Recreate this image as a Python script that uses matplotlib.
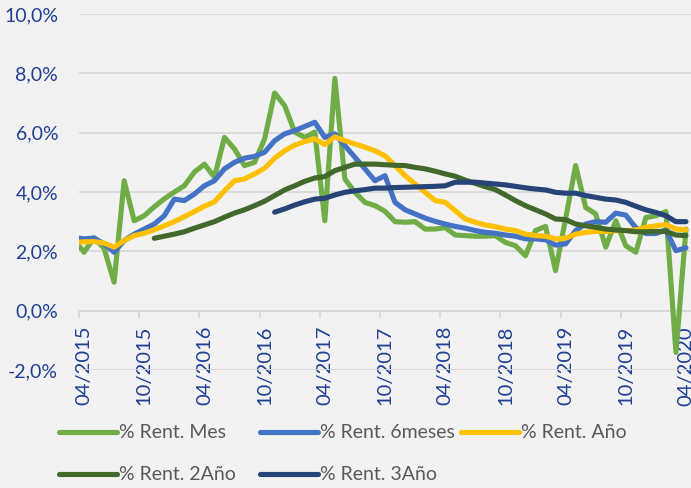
import numpy as np
import matplotlib
matplotlib.use("Agg")
import matplotlib.pyplot as plt
from matplotlib.ticker import FuncFormatter, FixedLocator
from matplotlib.lines import Line2D

nan = np.nan

# monthly points 03/2015 .. 04/2020 (values in %)
months = ["03/2015"] + [f"{m:02d}/{y}" for y in range(2015, 2021) for m in range(1, 13)
                        if (y, m) >= (2015, 4) and (y, m) <= (2020, 4)]

rent_mes = [2.40, 1.97, 2.45, 2.10, 0.96, 4.38, 3.03, 3.20, 3.50, 3.77,
            4.00, 4.21, 4.67, 4.94, 4.50, 5.84, 5.45, 4.89, 5.00, 5.79,
            7.34, 6.91, 6.02, 5.84, 6.02, 3.03, 7.83, 4.44, 3.99, 3.65,
            3.54, 3.35, 3.00, 2.98, 3.00, 2.75, 2.75, 2.80, 2.55, 2.53,
            2.51, 2.51, 2.53, 2.30, 2.19, 1.85, 2.70, 2.84, 1.35, 3.09,
            4.89, 3.48, 3.26, 2.14, 3.03, 2.19, 1.97, 3.14, 3.20, 3.34,
            -1.41, 2.75]

rent_6meses = [2.47, 2.42, 2.45, 2.25, 1.97, 2.36, 2.58, 2.75, 2.92, 3.20,
               3.76, 3.71, 3.93, 4.21, 4.38, 4.78, 5.00, 5.14, 5.20, 5.34,
               5.73, 5.96, 6.07, 6.21, 6.35, 5.84, 5.96, 5.56, 5.17, 4.78,
               4.38, 4.55, 3.65, 3.40, 3.26, 3.12, 3.01, 2.92, 2.84, 2.78,
               2.70, 2.64, 2.61, 2.55, 2.51, 2.42, 2.42, 2.39, 2.21, 2.25,
               2.70, 2.92, 3.00, 2.98, 3.29, 3.22, 2.80, 2.60, 2.60, 2.72,
               2.02, 2.12]

rent_anio = [2.30, 2.32, 2.33, 2.28, 2.14, 2.36, 2.53, 2.61, 2.73, 2.86,
             3.00, 3.17, 3.34, 3.52, 3.67, 4.04, 4.38, 4.44, 4.61, 4.80,
             5.14, 5.39, 5.58, 5.70, 5.79, 5.60, 5.86, 5.73, 5.62, 5.51,
             5.39, 5.22, 4.89, 4.55, 4.27, 3.99, 3.71, 3.65, 3.37, 3.09,
             2.98, 2.89, 2.83, 2.75, 2.70, 2.58, 2.53, 2.51, 2.42, 2.44,
             2.58, 2.64, 2.67, 2.67, 2.70, 2.70, 2.72, 2.81, 2.86, 2.90,
             2.75, 2.73]

rent_2anio = [nan] * 8 + [
              2.44, 2.51, 2.58, 2.66, 2.78, 2.89, 3.00, 3.15, 3.29, 3.40,
              3.54, 3.69, 3.88, 4.07, 4.21, 4.36, 4.47, 4.52, 4.72, 4.83,
              4.94, 4.94, 4.94, 4.92, 4.90, 4.89, 4.83, 4.78, 4.70, 4.61,
              4.53, 4.40, 4.29, 4.18, 4.08, 3.90, 3.71, 3.54, 3.40, 3.26,
              3.09, 3.07, 2.92, 2.86, 2.81, 2.75, 2.72, 2.70, 2.66, 2.66,
              2.67, 2.67, 2.55, 2.53]

rent_3anio = [nan] * 20 + [
              3.32, 3.43, 3.56, 3.67, 3.76, 3.79, 3.90, 3.99, 4.04, 4.08,
              4.13, 4.13, 4.15, 4.16, 4.17, 4.18, 4.19, 4.21, 4.33, 4.33,
              4.33, 4.30, 4.27, 4.24, 4.19, 4.14, 4.10, 4.07, 3.99, 3.96,
              3.96, 3.88, 3.82, 3.76, 3.73, 3.65, 3.52, 3.40, 3.31, 3.20,
              3.00, 3.00]

labels = ["% Rent. Mes", "% Rent. 6meses", "% Rent. Año", "% Rent. 2Año", "% Rent. 3Año"]
colors = ["#70AD47", "#4472C4", "#FFC000", "#43682B", "#264478"]
series = [rent_mes, rent_6meses, rent_anio, rent_2anio, rent_3anio]

plt.rcParams['font.family'] = ['Lato', 'DejaVu Sans']
BG = "#F2F2F2"
GRID = "#D9D9D9"
TICK_COLOR = "#1F3F94"

fig = plt.figure(figsize=(6.91, 4.88), dpi=100, facecolor=BG)
ax = fig.add_axes([79 / 691, 1 - 370 / 488, 1 - 79 / 691, (370 - 14) / 488])
ax.set_facecolor(BG)

x = np.arange(len(months))
for vals, c, lab in zip(series, colors, labels):
    ax.plot(x, vals, color=c, lw=3.7, label=lab, solid_joinstyle='round',
            solid_capstyle='round', zorder=3)

ax.set_xlim(0.5, len(months) - 0.5)
ax.set_ylim(-2, 10)
ax.set_yticks(np.arange(-2, 10.1, 2))
ax.yaxis.set_major_formatter(FuncFormatter(lambda v, p: f"{v:.1f}%".replace('.', ',')))
ax.grid(axis='y', color=GRID, lw=1.3, zorder=0)
ax.tick_params(axis='y', length=0, pad=15, labelsize=14, labelcolor=TICK_COLOR)

for s in ['top', 'right', 'left']:
    ax.spines[s].set_visible(False)
ax.spines['bottom'].set_position(('data', 0))
ax.spines['bottom'].set_color(GRID)
ax.spines['bottom'].set_linewidth(1.3)

# tick marks between categories, labels centred on categories
lab_pos = list(range(1, len(months), 6))
ax.xaxis.set_major_locator(FixedLocator([p - 0.5 for p in lab_pos]))
ax.xaxis.set_major_formatter(FuncFormatter(lambda v, p: ""))
ax.xaxis.set_minor_locator(FixedLocator(lab_pos))
ax.xaxis.set_minor_formatter(FuncFormatter(lambda v, p: months[int(round(v))]))
ax.tick_params(axis='x', which='major', length=5, width=1.3, color=GRID)
ax.tick_params(axis='x', which='minor', length=0, pad=11, labelsize=14.5,
               labelcolor=TICK_COLOR, labelrotation=90)
for t in ax.xaxis.get_minor_ticks():
    t.label1.set_verticalalignment('top')

# legend, Excel-like fixed slots
slots = [(59, 433), (260, 433), (461, 433), (59, 475), (260, 475)]
for (lx, ly), c, lab in zip(slots, colors, labels):
    h = Line2D([], [], color=c, lw=3.7, solid_capstyle='round')
    fig.legend([h], [lab], loc='center left', bbox_to_anchor=(lx / 691, 1 - ly / 488),
               frameon=False, handlelength=3.0, handletextpad=0.08, borderpad=0,
               borderaxespad=0, fontsize=14, labelcolor="#595959")

fig.savefig("out.png", dpi=100, facecolor=BG)
